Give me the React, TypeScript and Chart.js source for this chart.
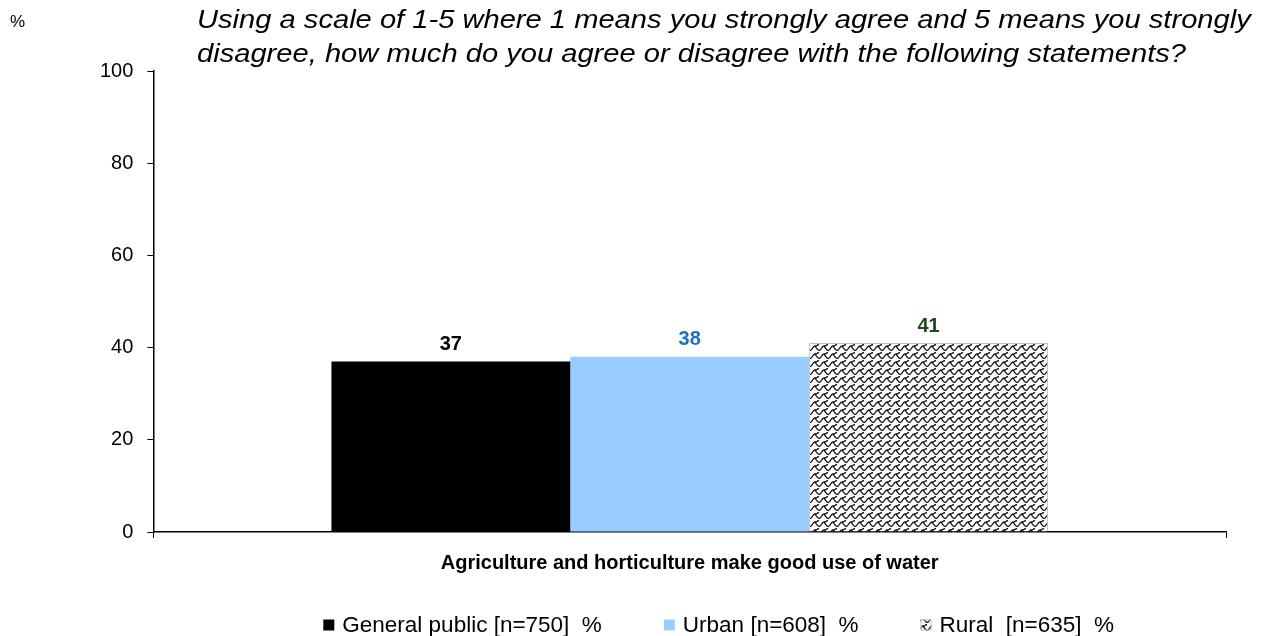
import React, { useEffect, useRef } from "react";
import { Chart, registerables } from "chart.js";

Chart.register(...registerables);

// Survey question shown above the plot
const titleLines = [
  "Using a scale of 1-5 where 1 means you strongly agree and 5 means you strongly",
  "disagree, how much do you agree or disagree with the following statements?",
];
const unitLabel = "%";

const categories = ["Agriculture and horticulture make good use of water"];
const seriesNames = ["General public [n=750]  %", "Urban [n=608]  %", "Rural  [n=635]  %"];
const generalPublic = [37];
const urban = [38];
const rural = [41];
const yTicks = [0, 20, 40, 60, 80, 100];

const labelColors = ["#000000", "#1f6fc4", "#1d4a1d"];
const FONT = "'Liberation Sans', Arial, sans-serif";

// Shingle-like hatch used for the rural series
function makeScalePattern(): CanvasPattern | string {
  const tile = document.createElement("canvas");
  tile.width = 9;
  tile.height = 8;
  const c = tile.getContext("2d");
  if (!c) return "#ffffff";
  c.fillStyle = "#ffffff";
  c.fillRect(0, 0, 9, 8);
  c.strokeStyle = "#111111";
  c.lineWidth = 1.3;
  c.beginPath();
  c.moveTo(0, 6.5);
  c.bezierCurveTo(2.5, 6.5, 2.5, 2, 5, 2);
  c.bezierCurveTo(7, 2, 7.5, 0.5, 9, 0.5);
  c.stroke();
  c.beginPath();
  c.moveTo(5, 2);
  c.bezierCurveTo(6.5, 3.5, 7, 6.5, 9, 6.5);
  c.stroke();
  const p = c.createPattern(tile, "repeat");
  return p || "#ffffff";
}

const annotate = {
  id: "annotate",
  afterDatasetsDraw(chart: any) {
    const ctx = chart.ctx;
    ctx.save();
    ctx.font = `bold 20px ${FONT}`;
    ctx.textAlign = "center";
    ctx.textBaseline = "bottom";
    chart.data.datasets.forEach((ds: any, i: number) => {
      const meta = chart.getDatasetMeta(i);
      meta.data.forEach((bar: any, j: number) => {
        ctx.fillStyle = labelColors[i];
        ctx.fillText(String(ds.data[j]), bar.x, bar.y - 7);
      });
    });
    ctx.restore();
  },
  afterDraw(chart: any) {
    const ctx = chart.ctx;
    ctx.save();
    ctx.fillStyle = "#000";
    ctx.textBaseline = "alphabetic";
    ctx.textAlign = "left";
    ctx.font = `17px ${FONT}`;
    ctx.fillText(unitLabel, 10, 27);

    // Question text, slightly widened
    ctx.font = `italic 26px ${FONT}`;
    titleLines.forEach((line, i) => {
      ctx.save();
      ctx.translate(197, 28 + i * 34);
      ctx.scale(1.12, 1);
      ctx.fillText(line, 0, 0);
      ctx.restore();
    });

    // Legend row along the bottom
    const box = 11;
    const gapBoxText = 8;
    const gapItems = 62;
    ctx.font = `22.5px ${FONT}`;
    const widths = seriesNames.map((s) => ctx.measureText(s).width);
    const total = widths.reduce((a, w) => a + w + box + gapBoxText, 0) + gapItems * (seriesNames.length - 1);
    const cx = (chart.chartArea.left + chart.chartArea.right) / 2 + 29;
    let x = cx - total / 2;
    const yMid = 625;
    chart.data.datasets.forEach((ds: any, i: number) => {
      ctx.fillStyle = ds.backgroundColor;
      ctx.fillRect(x, yMid - box / 2, box, box);
      if (ds.borderWidth) {
        ctx.strokeStyle = ds.borderColor;
        ctx.lineWidth = 1;
        ctx.strokeRect(x + 0.5, yMid - box / 2 + 0.5, box - 1, box - 1);
      }
      ctx.fillStyle = "#000";
      ctx.textBaseline = "middle";
      ctx.fillText(seriesNames[i], x + box + gapBoxText, yMid + 1);
      x += box + gapBoxText + widths[i] + gapItems;
    });
    ctx.restore();
  },
};

export default function App() {
  const ref = useRef<HTMLCanvasElement | null>(null);

  useEffect(() => {
    document.body.style.margin = "0";
    if (!ref.current) return;
    const pattern = makeScalePattern();
    const chart = new Chart(ref.current, {
      type: "bar",
      data: {
        labels: categories,
        datasets: [
          { label: seriesNames[0], data: generalPublic, backgroundColor: "#000000", borderWidth: 0 },
          { label: seriesNames[1], data: urban, backgroundColor: "#99ccff", borderWidth: 0 },
          { label: seriesNames[2], data: rural, backgroundColor: pattern as any, borderColor: "#bdbdbd", borderWidth: 1 },
        ],
      },
      options: {
        animation: false,
        responsive: true,
        maintainAspectRatio: false,
        layout: { padding: { top: 71, left: 86, right: 39, bottom: 48 } },
        datasets: { bar: { barPercentage: 1, categoryPercentage: 0.668 } },
        scales: {
          x: {
            grid: { drawOnChartArea: false, drawTicks: true, tickLength: 6, color: "#000", offset: true },
            border: { color: "#000", width: 1.5 },
            ticks: { color: "#000", padding: 13, font: { family: FONT, size: 20, weight: "bold" } },
          },
          y: {
            min: 0,
            max: 100,
            afterBuildTicks(scale: any) {
              scale.ticks = yTicks.map((v) => ({ value: v }));
            },
            grid: { drawOnChartArea: false, drawTicks: true, tickLength: 6, color: "#000" },
            border: { color: "#000", width: 1.5 },
            ticks: { color: "#000", padding: 14, font: { family: FONT, size: 20 } },
          },
        },
        plugins: {
          title: { display: false },
          tooltip: { enabled: false },
          legend: { display: false },
        },
      },
      plugins: [annotate],
    });
    return () => chart.destroy();
  }, []);

  return (
    <div style={{ width: 1265, height: 636, position: "relative", background: "#fff" }}>
      <canvas ref={ref} />
    </div>
  );
}
